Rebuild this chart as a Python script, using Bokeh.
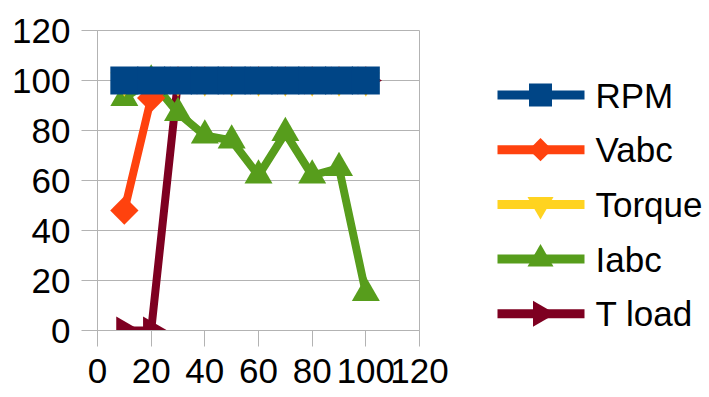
import math
from bokeh.plotting import figure
from bokeh.layouts import row
from bokeh.models import Range1d, FixedTicker, ColumnDataSource
from bokeh.core.properties import value
from bokeh.embed import file_html
from bokeh.resources import INLINE

# ---------------- data ----------------
x_vals = [10, 20, 30, 40, 50, 60, 70, 80, 90, 100]
rpm = [100, 100, 100, 100, 100, 100, 100, 100, 100, 100]
vabc = [48, 93, 100, 100, 100, 100, 100, 100, 100, 100]
torque = [100, 100, 100, 100, 100, 100, 100, 100, 100, 100]
iabc = [93, 100, 87, 78, 76, 62, 79, 62, 65, 15]
tload = [0, 0, 100, 100, 100, 100, 100, 100, 100, 100]

series_names = ["RPM", "Vabc", "Torque", "Iabc", "T load"]
series_values = [rpm, vabc, torque, iabc, tload]
x_ticks = [0, 20, 40, 60, 80, 100, 120]
y_ticks = [0, 20, 40, 60, 80, 100, 120]

# ---------------- styles ----------------
colors = ["#004586", "#ff420e", "#ffd320", "#579d1c", "#7e0021"]
# (marker, plot size, angle, legend size)
markers = [
    ("square", 28, 0.0, 23),
    ("square", 20, math.pi / 4, 16.5),
    ("inverted_triangle", 28, 0.0, 26),
    ("triangle", 28, 0.0, 26),
    ("triangle", 28, -math.pi / 2, 26),
]
FONT = "Liberation Sans"
GRID = "#b3b3b3"
LW = 8
TOP, BOTTOM = 30, 67

p = figure(width=460, height=397,
           x_range=Range1d(0, 120), y_range=Range1d(0, 120),
           output_backend="svg", toolbar_location=None,
           min_border_left=97, min_border_right=41,
           min_border_top=TOP, min_border_bottom=BOTTOM)
p.background_fill_color = "white"
p.border_fill_color = "white"
p.outline_line_color = GRID
p.xgrid.grid_line_color = None
p.ygrid.grid_line_color = GRID
p.xaxis.ticker = FixedTicker(ticks=x_ticks)
p.yaxis.ticker = FixedTicker(ticks=y_ticks)
for ax in (p.xaxis[0], p.yaxis[0]):
    ax.axis_line_color = GRID
    ax.major_tick_line_color = GRID
    ax.minor_tick_line_color = None
    ax.major_tick_in = 0
    ax.major_tick_out = 16
    ax.major_label_text_font = FONT
    ax.major_label_text_font_size = "35px"
    ax.major_label_text_color = "black"
p.xaxis.major_label_standoff = 12
p.yaxis.major_label_standoff = 11

# draw in reverse order so RPM ends on top
for i in reversed(range(len(series_names))):
    src = ColumnDataSource(dict(x=x_vals, y=series_values[i]))
    mk, sz, ang, _ = markers[i]
    p.line("x", "y", source=src, line_color=colors[i], line_width=LW,
           line_join="round")
    p.scatter("x", "y", source=src, marker=mk, size=sz, angle=ang,
              fill_color=colors[i], line_color=colors[i], line_width=0)

# ---------------- legend panel (frame aligned with the plot frame) ----------------
LEFT = 460
leg = figure(width=249, height=397, x_range=Range1d(LEFT, 709),
             y_range=Range1d(397 - BOTTOM, TOP), output_backend="svg",
             toolbar_location=None, x_axis_type=None, y_axis_type=None,
             min_border_left=0, min_border_right=0,
             min_border_top=TOP, min_border_bottom=BOTTOM)
leg.outline_line_color = None
leg.background_fill_color = "white"
leg.border_fill_color = "white"
leg.xgrid.visible = False
leg.ygrid.visible = False

LEG_Y0 = 94.5
LEG_DY = 54.7
LINE_X0, LINE_X1, MARK_X, TEXT_X = 497, 584, 540, 595
for i, name in enumerate(series_names):
    yy = LEG_Y0 + i * LEG_DY
    mk, _, ang, lsz = markers[i]
    leg.segment(x0=[LINE_X0], y0=[yy], x1=[LINE_X1], y1=[yy],
                line_color=colors[i], line_width=9)
    leg.scatter(x=[MARK_X], y=[yy], marker=mk, size=lsz, angle=ang,
                fill_color=colors[i], line_color=colors[i], line_width=0)
    leg.text(x=[TEXT_X], y=[yy], text=[name], text_font=value(FONT),
             text_font_size="35px", text_color="black",
             text_baseline="middle", text_align="left")

layout = row(p, leg)
open("out.html", "w").write(file_html(layout, INLINE))
